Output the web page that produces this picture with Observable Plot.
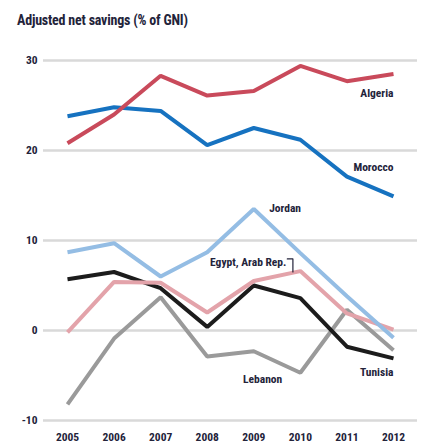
<!DOCTYPE html>
<html>
<head>
<meta charset="utf-8">
<script src="https://cdn.jsdelivr.net/npm/d3@7"></script>
<script src="https://cdn.jsdelivr.net/npm/@observablehq/plot@0.6"></script>
<style>
  body { margin: 0; background: #fff; }
  #wrap { width: 421px; font-family: "Liberation Sans Narrow", "Roboto Condensed", "DejaVu Sans Condensed", sans-serif; }
  #title { height: 40px; line-height: 40px; padding-left: 17px; font-size: 14px; font-weight: bold; color: #23233a; letter-spacing: -0.2px; }
</style>
</head>
<body>
<div id="wrap">
  <div id="title">Adjusted net savings (% of GNI)</div>
  <div id="chart"></div>
</div>
<script>
const years = [2005, 2006, 2007, 2008, 2009, 2010, 2011, 2012];
const algeria = [20.8, 24.0, 28.3, 26.1, 26.6, 29.4, 27.7, 28.5];
const morocco = [23.8, 24.8, 24.4, 20.6, 22.5, 21.2, 17.1, 14.9];
const jordan  = [8.7, 9.7, 6.0, 8.7, 13.5, 8.6, 3.8, -0.8];
const egypt   = [-0.2, 5.4, 5.3, 2.0, 5.5, 6.6, 1.9, 0.1];
const tunisia = [5.7, 6.5, 4.7, 0.4, 5.0, 3.6, -1.8, -3.1];
const lebanon = [-8.2, -0.9, 3.7, -2.9, -2.3, -4.7, 2.3, -2.2];
const yTicks = [-10, 0, 10, 20, 30];

const series = [
  {name: "Lebanon", values: lebanon, color: "#9a9a9a"},
  {name: "Tunisia", values: tunisia, color: "#1c1c1c"},
  {name: "Egypt, Arab Rep.", values: egypt, color: "#e3a3aa"},
  {name: "Jordan", values: jordan, color: "#94bde4"},
  {name: "Morocco", values: morocco, color: "#1672c0"},
  {name: "Algeria", values: algeria, color: "#c94a5b"}
];
const rows = series.flatMap(s => years.map((yr, i) => ({country: s.name, year: yr, value: s.values[i]})));

// label anchors in data coordinates
const labels = [
  {text: "Algeria", year: 2012, value: 26.3, anchor: "end"},
  {text: "Morocco", year: 2012, value: 18.1, anchor: "end"},
  {text: "Jordan", year: 2009.33, value: 13.6, anchor: "start"},
  {text: "Egypt, Arab Rep.", year: 2009.70, value: 7.6, anchor: "end"},
  {text: "Tunisia", year: 2012, value: -4.7, anchor: "end"},
  {text: "Lebanon", year: 2009.19, value: -5.4, anchor: "middle"}
];
const leader = [
  {year: 2009.72, value: 7.95},
  {year: 2009.84, value: 7.95},
  {year: 2009.84, value: 6.5}
];

const labelMark = a => Plot.text(labels.filter(d => d.anchor === a), {x: "year", y: "value", text: "text", textAnchor: a, fill: "#23233a", fontSize: 11.5, fontWeight: "bold"});

const chart = Plot.plot({
  width: 421,
  height: 403,
  marginTop: 20,
  marginBottom: 23,
  marginLeft: 67,
  marginRight: 28,
  style: {fontFamily: "\"Liberation Sans Narrow\", \"Roboto Condensed\", sans-serif", fontSize: "11.5px", fontWeight: "bold", color: "#23233a", background: "#fff"},
  x: {domain: [2005, 2012], ticks: years, tickFormat: d => String(d), tickSize: 0, tickPadding: 12, label: null},
  y: {domain: [-10, 30], ticks: yTicks, tickFormat: d => String(d), tickSize: 0, tickPadding: 30, label: null},
  color: {domain: series.map(s => s.name), range: series.map(s => s.color)},
  marks: [
    Plot.ruleY(yTicks, {stroke: "#d9d9d9", strokeWidth: 2.5, insetLeft: -24, insetRight: -24}),
    Plot.line(rows, {x: "year", y: "value", z: "country", stroke: "country", strokeWidth: 4, strokeLinejoin: "miter", strokeLinecap: "butt"}),
    Plot.line(leader, {x: "year", y: "value", stroke: "#23233a", strokeWidth: 1.2}),
    labelMark("start"),
    labelMark("middle"),
    labelMark("end")
  ]
});
document.getElementById("chart").appendChild(chart);
</script>
</body>
</html>
